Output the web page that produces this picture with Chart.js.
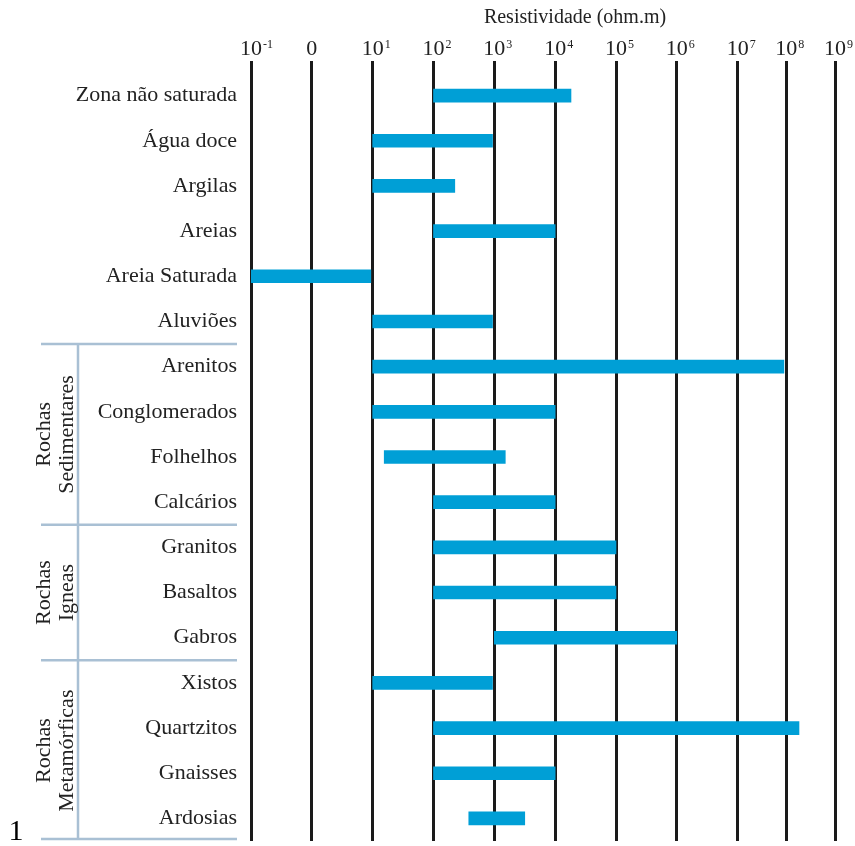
<!DOCTYPE html>
<html>
<head>
<meta charset="utf-8">
<script src="https://cdn.jsdelivr.net/npm/chart.js@4.4.1/dist/chart.umd.min.js"></script>
<style>
  html, body { margin: 0; padding: 0; background: #fff; }
  #wrap { width: 855px; height: 846px; position: relative; }
</style>
</head>
<body>
<div id="wrap"><canvas id="chart"></canvas></div>
<script>
// resistivity ranges, in powers of ten (log10 ohm.m)
const categories = ['Zona não saturada', 'Água doce', 'Argilas', 'Areias', 'Areia Saturada', 'Aluviões',
    'Arenitos', 'Conglomerados', 'Folhelhos', 'Calcários', 'Granitos', 'Basaltos', 'Gabros',
    'Xistos', 'Quartzitos', 'Gnaisses', 'Ardosias'];
const minExp = [2, 1, 1, 2, -1, 1, 1, 1, 1.19, 2, 2, 2, 3, 1, 2, 2, 2.58];
const maxExp = [4.26, 2.97, 2.35, 4, 0.97, 2.97, 7.95, 4, 3.18, 4, 5, 5, 6, 2.97, 8.26, 4, 3.5];
// base^exponent, the exponent is drawn raised
const tickLabels = ['10^-1', '0', '10^1', '10^2', '10^3', '10^4', '10^5', '10^6', '10^7', '10^8', '10^9'];
const axisTitle = 'Resistividade (ohm.m)';

// rock groups (category index ranges)
const groupLines = [['Rochas', 'Sedimentares'], ['Rochas', 'Igneas'], ['Rochas', 'Metamórficas']];
const groupStart = [6, 10, 13];
const groupEnd = [9, 12, 16];

const SERIF = '"Liberation Serif", "DejaVu Serif", serif';
const TEXT = '#222';

// the original axis squeezes the last two decades a bit
class WarpScale extends Chart.LinearScale {
    warp(v) { return v <= 7 ? v : 7 + (v - 7) * 0.8; }
    unwarp(u) { return u <= 7 ? u : 7 + (u - 7) / 0.8; }
    getPixelForValue(v) {
        if (v === null || isNaN(v)) return NaN;
        const a = this.warp(this.min), b = this.warp(this.max);
        return this.getPixelForDecimal((this.warp(v) - a) / (b - a));
    }
    getValueForPixel(p) {
        const a = this.warp(this.min), b = this.warp(this.max);
        return this.unwarp(a + this.getDecimalForPixel(p) * (b - a));
    }
}
WarpScale.id = 'warp';
WarpScale.defaults = Chart.LinearScale.defaults;
Chart.register(WarpScale);

const decorations = {
    id: 'decorations',
    afterDraw(chart) {
        const { ctx, chartArea, scales } = chart;
        const x = scales.x, y = scales.y;
        const band = y.getPixelForValue(1) - y.getPixelForValue(0);
        const edge = i => y.getPixelForValue(i) - band / 2;

        ctx.save();
        ctx.fillStyle = TEXT;

        // axis title
        ctx.font = '20px ' + SERIF;
        ctx.textAlign = 'center';
        ctx.textBaseline = 'middle';
        ctx.fillText(axisTitle, (chartArea.left + chartArea.right) / 2 + 32, 18);

        // tick labels with raised exponents
        ctx.textBaseline = 'alphabetic';
        x.ticks.forEach((t, i) => {
            const px = x.getPixelForValue(t.value);
            const [base, exp] = tickLabels[i].split('^');
            ctx.font = '22px ' + SERIF;
            ctx.textAlign = 'center';
            ctx.fillText(base, px, 55);
            if (exp) {
                const w = ctx.measureText(base).width;
                ctx.font = '12px ' + SERIF;
                ctx.textAlign = 'left';
                ctx.fillText(exp, px + w / 2 + 1, 48);
            }
        });

        // group brackets
        ctx.strokeStyle = '#a9c0d4';
        ctx.lineWidth = 2.5;
        const top = edge(groupStart[0]);
        const bottom = edge(groupEnd[groupEnd.length - 1] + 1) - 2;
        ctx.beginPath();
        ctx.moveTo(78, top);
        ctx.lineTo(78, bottom);
        groupStart.forEach(s => { ctx.moveTo(41, edge(s)); ctx.lineTo(237, edge(s)); });
        ctx.moveTo(41, bottom);
        ctx.lineTo(237, bottom);
        ctx.stroke();

        ctx.font = '22px ' + SERIF;
        ctx.textAlign = 'center';
        ctx.textBaseline = 'middle';
        groupLines.forEach((lines, g) => {
            const mid = (edge(groupStart[g]) + edge(groupEnd[g] + 1)) / 2;
            lines.forEach((t, k) => {
                ctx.save();
                ctx.translate(44 + k * 23, mid);
                ctx.rotate(-Math.PI / 2);
                ctx.fillText(t, 0, 0);
                ctx.restore();
            });
        });

        // stray figure number
        ctx.fillStyle = '#000';
        ctx.font = '30px ' + SERIF;
        ctx.textBaseline = 'alphabetic';
        ctx.fillText('1', 16, 840);
        ctx.restore();
    },
};

new Chart(document.getElementById('chart'), {
    type: 'bar',
    data: {
        labels: categories,
        datasets: [{
            data: minExp.map((m, i) => [m, maxExp[i]]),
            backgroundColor: '#009fd6',
            borderWidth: 0,
            borderSkipped: false,
            barThickness: 13,
        }],
    },
    options: {
        indexAxis: 'y',
        responsive: true,
        maintainAspectRatio: false,
        animation: false,
        layout: { padding: { top: 0, right: 20, bottom: 5, left: 0 } },
        plugins: {
            legend: { display: false },
            tooltip: { enabled: false },
        },
        scales: {
            x: {
                type: 'warp',
                position: 'top',
                min: -1,
                max: 9,
                z: 1,
                afterFit: s => { s.height = 73; s.paddingLeft = 0; s.paddingRight = 0; },
                ticks: { stepSize: 1, display: false },
                grid: { color: '#1a1a1a', lineWidth: 3, tickLength: 12, drawTicks: true },
                border: { display: false },
            },
            y: {
                afterFit: s => { s.width = 251; s.paddingTop = 0; s.paddingBottom = 0; },
                ticks: {
                    padding: 14,
                    color: TEXT,
                    font: { family: SERIF, size: 22 },
                },
                grid: { display: false, drawTicks: false },
                border: { display: false },
            },
        },
    },
    plugins: [decorations],
});
</script>
</body>
</html>
